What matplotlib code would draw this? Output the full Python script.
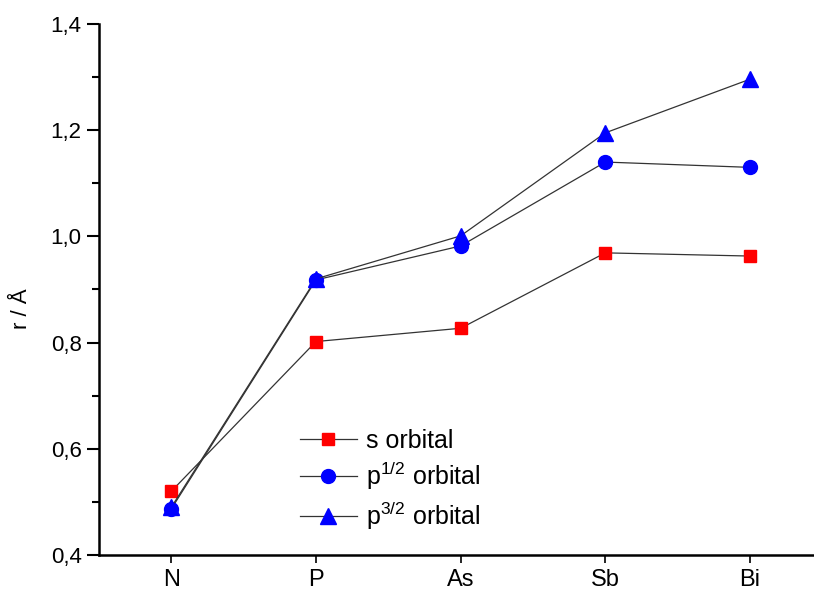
import matplotlib
matplotlib.use("Agg")
import matplotlib.pyplot as plt
from matplotlib.ticker import FuncFormatter, MultipleLocator

plt.rcParams['font.family'] = ['Liberation Sans', 'DejaVu Sans']
plt.rcParams['mathtext.fontset'] = 'custom'
plt.rcParams['mathtext.rm'] = 'Liberation Sans'
plt.rcParams['mathtext.default'] = 'regular'

elements = ["N", "P", "As", "Sb", "Bi"]
s_orb = [0.520, 0.802, 0.827, 0.969, 0.963]
p12_orb = [0.487, 0.918, 0.982, 1.140, 1.130]
p32_orb = [0.490, 0.920, 1.001, 1.195, 1.296]

fig = plt.figure(figsize=(8.14, 5.9), dpi=100)
ax = fig.add_axes([99 / 814, 35 / 590, (814 - 99) / 814, 531 / 590])

x = range(1, len(elements) + 1)
ax.plot(x, s_orb, color='#333333', lw=0.9, marker='s', ms=9,
        mfc='red', mec='red', label='s orbital')
ax.plot(x, p12_orb, color='#333333', lw=0.9, marker='o', ms=10,
        mfc='blue', mec='blue', label='p$^{1/2}$ orbital')
ax.plot(x, p32_orb, color='#333333', lw=0.9, marker='^', ms=11,
        mfc='blue', mec='blue', label='p$^{3/2}$ orbital')

ax.set_xlim(0.5, 5 + (814 - 750) / 144.5)
ax.set_ylim(0.4, 1.4)
ax.set_xticks(list(x))
ax.set_xticklabels(elements)
ax.yaxis.set_major_locator(MultipleLocator(0.2))
ax.yaxis.set_minor_locator(MultipleLocator(0.1))
ax.yaxis.set_major_formatter(FuncFormatter(lambda v, p: f"{v:.1f}".replace('.', ',')))

ax.spines['top'].set_visible(False)
ax.spines['right'].set_visible(False)
ax.spines['left'].set_linewidth(1.8)
ax.spines['bottom'].set_linewidth(1.8)
ax.tick_params(axis='y', which='major', direction='out', length=9, width=1.5, labelsize=16)
ax.tick_params(axis='y', which='minor', direction='out', length=5, width=1.5)
ax.tick_params(axis='x', which='major', direction='out', length=6, width=1.2, labelsize=17, pad=4)

ax.set_ylabel("r / Å", fontsize=16)
ax.yaxis.set_label_coords(-0.094, 0.463)

ax.legend(loc='upper left', bbox_to_anchor=(277 / 814, 1 - 406 / 590),
          bbox_transform=fig.transFigure, frameon=False, fontsize=18,
          handlelength=2.3, labelspacing=0.3, handletextpad=0.36)

fig.savefig("out.png", dpi=100)
